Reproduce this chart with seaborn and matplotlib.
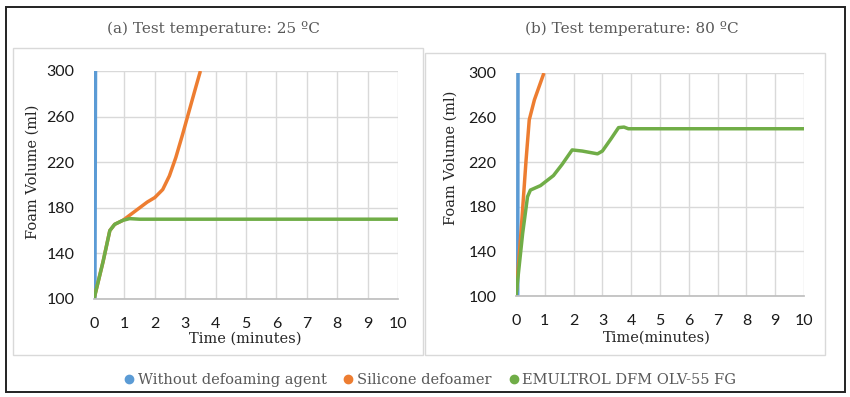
import matplotlib
matplotlib.use("Agg")
import matplotlib.pyplot as plt
import seaborn as sns
from matplotlib.patches import Rectangle

# ---------------- data ----------------
# Panel (a): 25 ºC
a_blue_t = [0.03, 0.05]
a_blue_v = [100, 300]
a_orange_t = [0, 0.3, 0.52, 0.68, 0.95, 1.2, 1.5, 1.75, 2.0, 2.26, 2.48, 2.69, 2.91, 3.13, 3.34, 3.5]
a_orange_v = [100, 133, 160, 165.5, 169, 174, 180, 185, 189, 196, 208, 224, 244, 265, 285, 300]
a_green_t = [0, 0.3, 0.52, 0.68, 0.95, 1.17, 1.5, 2, 3, 4, 5, 6, 7, 8, 9, 10]
a_green_v = [100, 133, 160, 165.5, 169, 170.5, 170, 170, 170, 170, 170, 170, 170, 170, 170, 170]

# Panel (b): 80 ºC
b_blue_t = [0.06, 0.07]
b_blue_v = [100, 300]
b_orange_t = [0, 0.17, 0.35, 0.46, 0.64, 0.97]
b_orange_v = [101, 156, 222, 258, 276, 300]
b_green_t = [0, 0.23, 0.4, 0.5, 0.85, 1.3, 1.6, 1.95, 2.3, 2.83, 3.0, 3.3, 3.56, 3.75, 3.9,
             5, 6, 7, 8, 9, 10]
b_green_v = [100, 156, 189, 195, 199, 208, 218, 231, 230, 227.5, 230, 241, 251, 251.5, 250,
             250, 250, 250, 250, 250, 250]

x_ticks = list(range(0, 11))
y_ticks = [100, 140, 180, 220, 260, 300]
titles = ["(a) Test temperature: 25 ºC", "(b) Test temperature: 80 ºC"]
xlabels = ["Time (minutes)", "Time(minutes)"]
ylabel = "Foam Volume (ml)"
series_names = ["Without defoaming agent", "Silicone defoamer", "EMULTROL DFM OLV-55 FG"]
colors = ["#5B9BD5", "#ED7D31", "#70AD47"]

# ---------------- figure ----------------
sns.set_theme(style="white")
serif = ["DejaVu Serif"]
sans = ["Lato", "DejaVu Sans"]
plt.rcParams["font.family"] = sans

W, H = 850, 397
fig = plt.figure(figsize=(W / 100, H / 100), dpi=100)
fig.patch.set_facecolor("white")


def fr(x0, y0, x1, y1):
    """pixel box (top-origin) -> figure fraction rect"""
    return [x0 / W, 1 - y1 / H, (x1 - x0) / W, (y1 - y0) / H]


# outer black frame and panel frames
fig.add_artist(Rectangle((6 / W, 1 - 392 / H), (845 - 6) / W, (392 - 7) / H,
                         transform=fig.transFigure, fill=False, edgecolor="#222222", lw=1.4))
fig.add_artist(Rectangle((13 / W, 1 - 355 / H), (423 - 13) / W, (355 - 48) / H,
                         transform=fig.transFigure, fill=False, edgecolor="#d9d9d9", lw=1.0))
fig.add_artist(Rectangle((425 / W, 1 - 355 / H), (825 - 425) / W, (355 - 53) / H,
                         transform=fig.transFigure, fill=False, edgecolor="#d9d9d9", lw=1.0))

panels = [
    dict(box=(94, 71, 398, 299), data=[(a_blue_t, a_blue_v), (a_orange_t, a_orange_v), (a_green_t, a_green_v)],
         title_xy=(213, 28), xlab_xy=(245, 339), ylab_xy=(33, 172)),
    dict(box=(516, 73, 804, 296), data=[(b_blue_t, b_blue_v), (b_orange_t, b_orange_v), (b_green_t, b_green_v)],
         title_xy=(632, 28), xlab_xy=(657, 338), ylab_xy=(451, 158)),
]

for i, p in enumerate(panels):
    ax = fig.add_axes(fr(*p["box"]))
    for (t, v), c in zip(p["data"], colors):
        sns.lineplot(x=t, y=v, ax=ax, color=c, lw=2.5, estimator=None, sort=False,
                     solid_capstyle="butt")
    ax.set_xlim(0, 10)
    ax.set_ylim(100, 300)
    ax.set_xticks(x_ticks)
    ax.set_yticks(y_ticks)
    ax.grid(True, color="#d9d9d9", lw=1.0)
    ax.set_axisbelow(True)
    for s in ["top", "right", "left"]:
        ax.spines[s].set_visible(False)
    ax.spines["bottom"].set_color("#bfbfbf")
    ax.tick_params(axis="x", length=0, labelsize=11.5, colors="#1a1a1a", pad=13)
    ax.tick_params(axis="y", length=0, labelsize=11.5, colors="#1a1a1a", pad=14)
    ax.set_xlabel("")
    ax.set_ylabel("")
    fig.text(p["title_xy"][0] / W, 1 - p["title_xy"][1] / H, titles[i], ha="center", va="center",
             fontsize=11, color="#595959", family=serif)
    fig.text(p["xlab_xy"][0] / W, 1 - p["xlab_xy"][1] / H, xlabels[i], ha="center", va="center",
             fontsize=10.5, color="#262626", family=serif)
    fig.text(p["ylab_xy"][0] / W, 1 - p["ylab_xy"][1] / H, ylabel, ha="center", va="center",
             fontsize=10.5, color="#262626", family=serif, rotation=90)

# legend
handles = [plt.Line2D([], [], ls="", marker="o", ms=6, color=c) for c in colors]
fig.legend(handles, series_names, loc="center", bbox_to_anchor=(429 / W, 1 - 380 / H),
           ncol=3, frameon=False, handletextpad=0.1, columnspacing=1.0,
           prop=dict(family=serif, size=10.5), labelcolor="#595959", handlelength=1.0)

fig.savefig("out.png", dpi=100, facecolor="white")
